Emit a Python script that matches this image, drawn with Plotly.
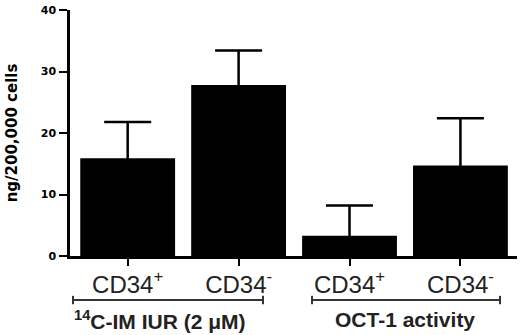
import plotly.graph_objects as go

# Data
categories = ["CD34<sup>+</sup>", "CD34<sup>-</sup>", "CD34<sup>+</sup>", "CD34<sup>-</sup>"]
values = [15.9, 27.8, 3.3, 14.7]
errors_upper = [5.9, 5.6, 4.9, 7.7]
group_labels = ["<sup>14</sup>C-IM IUR (2 \u03bcM)", "OCT-1 activity"]
y_ticks = [0, 10, 20, 30, 40]
y_title = "ng/200,000 cells"

xpos = list(range(len(values)))

fig = go.Figure()
fig.add_trace(go.Bar(
    x=xpos, y=values, width=0.855,
    marker=dict(color="black", line=dict(width=0)),
    error_y=dict(type="data", symmetric=False, array=errors_upper,
                 arrayminus=[0.4] * len(values),  # lower cap hidden inside bar
                 color="black", thickness=2.5, width=23.5),
    hoverinfo="skip",
))

font_main = "Liberation Sans, Arial, sans-serif"

fig.update_layout(
    width=520, height=335,
    margin=dict(l=70, r=3, t=10, b=79),
    paper_bgcolor="white", plot_bgcolor="white",
    showlegend=False,
    xaxis=dict(range=[-0.52, 3.51], tickmode="array", tickvals=xpos,
               ticktext=categories, showline=True, linewidth=2.5,
               linecolor="black", ticks="outside", ticklen=7, tickwidth=2,
               tickcolor="black", showgrid=False, zeroline=False,
               automargin=False, ticklabelstandoff=-2,
               tickfont=dict(family=font_main, size=24, color="#222")),
    yaxis=dict(range=[0, 40], tickvals=y_ticks, showline=True, linewidth=2.5,
               linecolor="black", ticks="outside", ticklen=8, tickwidth=2,
               tickcolor="black", showgrid=False, zeroline=False,
               automargin=False, ticklabelstandoff=1,
               tickfont=dict(family="DejaVu Sans", size=11, color="black",
                             weight="bold"),
               title=dict(text=y_title, standoff=20,
                          font=dict(family="DejaVu Sans", size=15,
                                    color="black", weight="bold"))),
)

# group brackets
brackets = [(-0.493, 1.22), (1.662, 3.357)]
yb = -0.179
cap = 0.017
for (x0, x1), lab in zip(brackets, group_labels):
    fig.add_shape(type="line", xref="x", yref="paper", x0=x0, x1=x1, y0=yb, y1=yb,
                  line=dict(color="#333", width=2))
    for xx in (x0, x1):
        fig.add_shape(type="line", xref="x", yref="paper", x0=xx, x1=xx,
                      y0=yb - cap, y1=yb + cap, line=dict(color="#333", width=2))

label_x = [0.292, 2.50]
for lx, lab in zip(label_x, group_labels):
    fig.add_annotation(x=lx, y=-0.26, xref="x", yref="paper", text=lab,
                       showarrow=False, yanchor="middle",
                       font=dict(family=font_main, size=21, color="#222",
                                 weight="bold"))

fig.write_html("out.html", config={"displayModeBar": False},
               post_script="document.body.style.margin='0';document.body.style.overflow='hidden';")
